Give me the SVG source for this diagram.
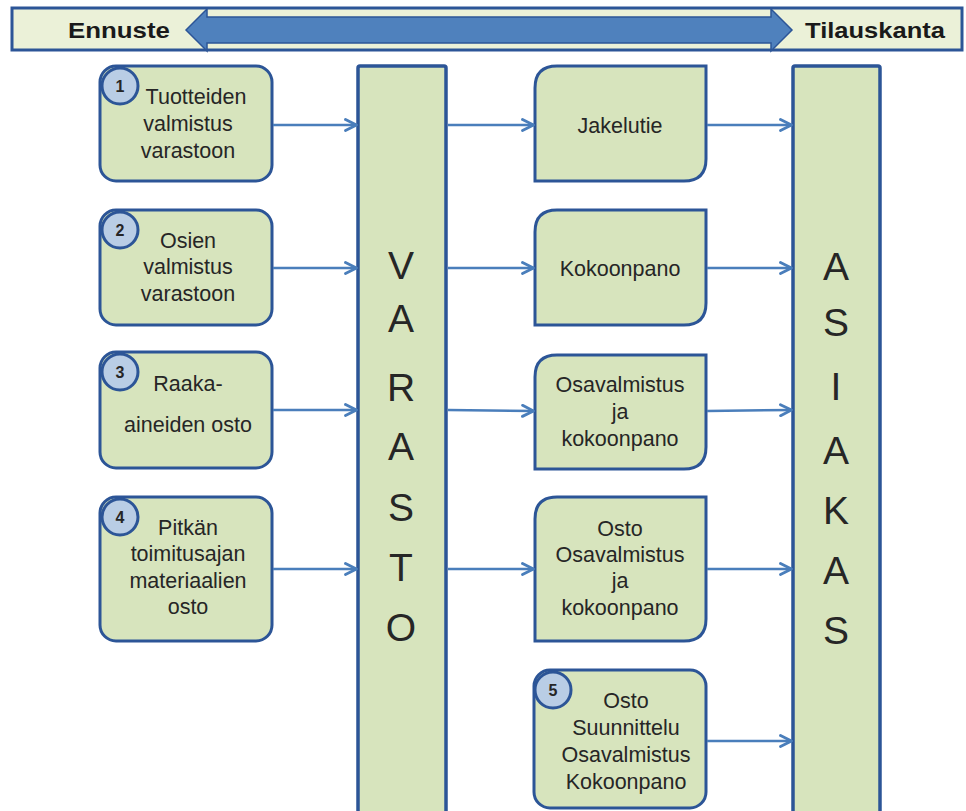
<svg xmlns="http://www.w3.org/2000/svg" width="966" height="811" viewBox="0 0 966 811">
<defs>
<style>
.box{fill:#d7e4bd;stroke:#2c5597;stroke-width:3}
.col{fill:#d7e4bd;stroke:#2c5597;stroke-width:3.5}
.badge{fill:#b9cde5;stroke:#2c5597;stroke-width:3}
.t{font-family:"Liberation Sans",Arial,sans-serif;font-size:21.5px;fill:#262626;text-anchor:middle}
.big{font-family:"Liberation Sans",Arial,sans-serif;font-size:39px;fill:#262626;text-anchor:middle}
.num{font-family:"Liberation Sans",Arial,sans-serif;font-size:16px;font-weight:bold;fill:#262626;text-anchor:middle}
.hdr{font-family:"Liberation Sans",Arial,sans-serif;font-size:22px;font-weight:bold;fill:#1a1a1a}
.con{stroke:#4a7ebb;stroke-width:2.5;fill:none;marker-end:url(#ah)}
</style>
<marker id="ah" viewBox="0 0 14 14" refX="13" refY="7" markerWidth="14" markerHeight="14" markerUnits="userSpaceOnUse" orient="auto">
<path d="M1.5,1.5 L12.5,7 L1.5,12.5" fill="none" stroke="#4a7ebb" stroke-width="2.8" stroke-linecap="round" stroke-linejoin="round"/>
</marker>
</defs>
<rect width="966" height="811" fill="#ffffff"/>

<g id="banner">
<rect x="12" y="8" width="950" height="42" fill="#ebf1d8" stroke="#2c5597" stroke-width="3"/>
<path d="M186,30 L207,9 L207,17 L771,17 L771,9 L792,30 L771,51 L771,43 L207,43 L207,51 Z" fill="#4f81bd" stroke="#2c5597" stroke-width="1.5"/>
<text class="hdr" x="68" y="38" textLength="102" lengthAdjust="spacingAndGlyphs">Ennuste</text>
<text class="hdr" x="805" y="38" textLength="140" lengthAdjust="spacingAndGlyphs">Tilauskanta</text>
</g>

<g id="varasto">
<rect class="col" x="358" y="66" width="88" height="760" rx="2"/>
<text class="big" x="401" y="279">V</text>
<text class="big" x="401" y="332">A</text>
<text class="big" x="401" y="401">R</text>
<text class="big" x="401" y="460">A</text>
<text class="big" x="401" y="521">S</text>
<text class="big" x="401" y="581">T</text>
<text class="big" x="401" y="641">O</text>
</g>

<g id="asiakas">
<rect class="col" x="793" y="66" width="87" height="760" rx="2"/>
<text class="big" x="836" y="280">A</text>
<text class="big" x="836" y="336">S</text>
<text class="big" x="836" y="400">I</text>
<text class="big" x="836" y="464">A</text>
<text class="big" x="836" y="524">K</text>
<text class="big" x="836" y="584">A</text>
<text class="big" x="836" y="644">S</text>
</g>

<g id="n1">
<rect class="box" x="100" y="66" width="172" height="115" rx="16"/>
<circle class="badge" cx="120" cy="86" r="18"/>
<text class="num" x="120" y="92">1</text>
<text class="t" x="196" y="104">Tuotteiden</text>
<text class="t" x="188" y="131">valmistus</text>
<text class="t" x="188" y="158">varastoon</text>
</g>

<g id="n2">
<rect class="box" x="100" y="210" width="172" height="115" rx="16"/>
<circle class="badge" cx="120" cy="230" r="18"/>
<text class="num" x="120" y="236">2</text>
<text class="t" x="188" y="248">Osien</text>
<text class="t" x="188" y="274">valmistus</text>
<text class="t" x="188" y="301">varastoon</text>
</g>

<g id="n3">
<rect class="box" x="100" y="352" width="172" height="116" rx="16"/>
<circle class="badge" cx="120" cy="372" r="18"/>
<text class="num" x="120" y="378">3</text>
<text class="t" x="188" y="391">Raaka-</text>
<text class="t" x="188" y="432">aineiden osto</text>
</g>

<g id="n4">
<rect class="box" x="100" y="497" width="172" height="144" rx="16"/>
<circle class="badge" cx="120" cy="517" r="18"/>
<text class="num" x="120" y="523">4</text>
<text class="t" x="188" y="535">Pitkän</text>
<text class="t" x="188" y="561">toimitusajan</text>
<text class="t" x="188" y="588">materiaalien</text>
<text class="t" x="188" y="614">osto</text>
</g>

<g id="m1">
<path class="box" d="M557,66 L706,66 L706,159 Q706,181 684,181 L535,181 L535,88 Q535,66 557,66 Z"/>
<text class="t" x="620" y="133">Jakelutie</text>
</g>

<g id="m2">
<path class="box" d="M557,210 L706,210 L706,303 Q706,325 684,325 L535,325 L535,232 Q535,210 557,210 Z"/>
<text class="t" x="620" y="276">Kokoonpano</text>
</g>

<g id="m3">
<path class="box" d="M557,355 L706,355 L706,447 Q706,469 684,469 L535,469 L535,377 Q535,355 557,355 Z"/>
<text class="t" x="620" y="392">Osavalmistus</text>
<text class="t" x="620" y="419">ja</text>
<text class="t" x="620" y="446">kokoonpano</text>
</g>

<g id="m4">
<path class="box" d="M557,497 L706,497 L706,619 Q706,641 684,641 L535,641 L535,519 Q535,497 557,497 Z"/>
<text class="t" x="620" y="536">Osto</text>
<text class="t" x="620" y="562">Osavalmistus</text>
<text class="t" x="620" y="588">ja</text>
<text class="t" x="620" y="615">kokoonpano</text>
</g>

<g id="n5">
<rect class="box" x="534" y="670" width="172" height="138" rx="16"/>
<circle class="badge" cx="553" cy="690" r="18"/>
<text class="num" x="553" y="696">5</text>
<text class="t" x="626" y="708">Osto</text>
<text class="t" x="626" y="735">Suunnittelu</text>
<text class="t" x="626" y="762">Osavalmistus</text>
<text class="t" x="626" y="789">Kokoonpano</text>
</g>

<g id="connectors">
<line class="con" x1="273" y1="125" x2="357" y2="125"/>
<line class="con" x1="273" y1="268" x2="357" y2="268"/>
<line class="con" x1="273" y1="410" x2="357" y2="410"/>
<line class="con" x1="273" y1="569" x2="357" y2="569"/>
<line class="con" x1="448" y1="125" x2="534" y2="125"/>
<line class="con" x1="448" y1="268" x2="534" y2="268"/>
<line class="con" x1="448" y1="410" x2="534" y2="411"/>
<line class="con" x1="448" y1="569" x2="534" y2="569"/>
<line class="con" x1="707" y1="125" x2="792" y2="125"/>
<line class="con" x1="707" y1="268" x2="792" y2="268"/>
<line class="con" x1="707" y1="411" x2="792" y2="410"/>
<line class="con" x1="707" y1="569" x2="792" y2="569"/>
<line class="con" x1="707" y1="741" x2="792" y2="741"/>
</g>
</svg>
